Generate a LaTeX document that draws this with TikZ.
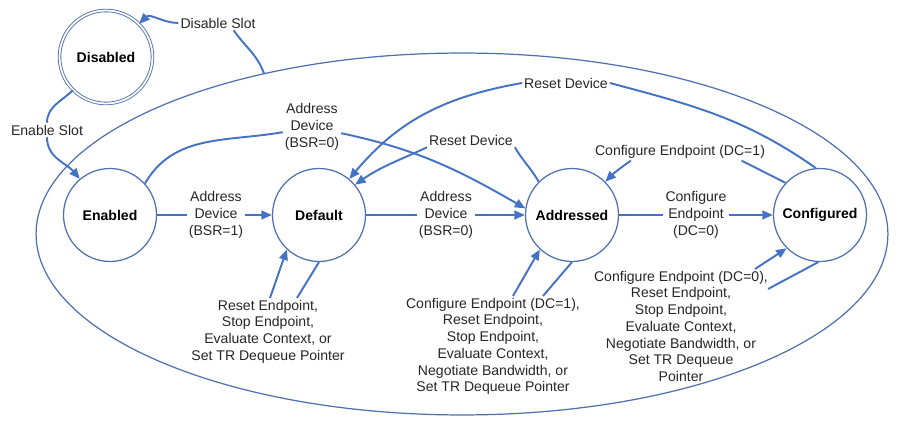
\documentclass[tikz,border=0pt]{standalone}
\usepackage{fontspec}
\setmainfont{Liberation Sans}
\usepackage{tikz}
\tikzset{every picture/.style={x=0.02cm,y=0.02cm}}
\usetikzlibrary{arrows.meta, shapes.geometric, calc}
\definecolor{cblue}{RGB}{79,112,176}
\definecolor{ablue}{RGB}{68,114,196}
\definecolor{tgray}{RGB}{38,38,38}
\tikzset{
  state/.style={circle, draw=cblue, line width=0.7pt, minimum size=1.86cm, inner sep=0pt,
    font=\fontsize{8}{9.5}\selectfont\bfseries, text=black},
  lbl/.style={align=center, inner sep=1pt, text=tgray, font=\fontsize{8}{9.5}\selectfont},
  link/.style={draw=ablue, line width=1.1pt},
  flow/.style={link, -{Triangle[length=6pt,width=5pt]}}
}

\begin{document}
\begin{tikzpicture}
    \useasboundingbox (0,0) rectangle (913,429);
    % slot enabled region
    \node[draw=cblue, line width=0.7pt, ellipse, minimum width=17.04cm, minimum height=7.24cm,
      inner sep=0pt, outer sep=0pt] (sys) at (462,195) {};
    % states
    \node[state, double, double distance=1pt, line width=0.5pt] (dis) at (106,372) {Disabled};
    \node[state] (en) at (110,214) {Enabled};
    \node[state] (def) at (319,214) {Default};
    \node[state] (adr) at (572,214) {Addressed};
    \node[state] (cfg) at (820,214) {Configured};
    % commands
    \node[lbl] (dslot) at (218,406) {Disable Slot};
    \node[lbl] (eslot) at (47,299) {Enable Slot};
    \node[lbl] (ad1) at (216,214) {Address\\Device\\(BSR=1)};
    \node[lbl] (ad0a) at (312,302) {Address\\Device\\(BSR=0)};
    \node[lbl] (ad0b) at (446,214) {Address\\Device\\(BSR=0)};
    \node[lbl] (rd1) at (471,289) {Reset Device};
    \node[lbl] (rd2) at (566,346) {Reset Device};
    \node[lbl] (ce1) at (680,277) {Configure Endpoint (DC=1)};
    \node[lbl] (ce0) at (696,214) {Configure\\Endpoint\\(DC=0)};
    \node[lbl, anchor=north] (lp1) at (268,131)
      {Reset Endpoint,\\Stop Endpoint,\\Evaluate Context, or\\Set TR Dequeue Pointer};
    \node[lbl, anchor=north] (lp2) at (493,133)
      {Configure Endpoint (DC=1),\\Reset Endpoint,\\Stop Endpoint,\\Evaluate Context,\\Negotiate Bandwidth, or\\Set TR Dequeue Pointer};
    \node[lbl, anchor=north] (lp3) at (681,160)
      {Configure Endpoint (DC=0),\\Reset Endpoint,\\Stop Endpoint,\\Evaluate Context,\\Negotiate Bandwidth, or\\Set TR Dequeue\\Pointer};
    % transitions
    \draw[link] (sys.141) to[out=110,in=-55] (dslot.-25);
    \draw[flow] (dslot) to[out=180,in=45] (dis);
    \draw[link] (dis.225) to[out=225,in=90] (eslot);
    \draw[flow] (eslot) to[out=-90,in=130] (en);
    \draw[link] (en) -- (ad1);
    \draw[flow] (ad1) -- (def);
    \draw[link] (en.42) to[out=60,in=190] (ad0a);
    \draw[flow] (ad0a) to[out=-12,in=150] (adr.172);
    \draw[link] (def) -- (ad0b);
    \draw[flow] (ad0b) -- (adr);
    \draw[link] (adr.135) to[out=120,in=-60] (rd1.south east);
    \draw[flow] (rd1.south west) to[out=205,in=35] (def.40);
    \draw[link] (cfg.95) to[out=145,in=-15] (rd2.east);
    \draw[flow] (rd2.west) to[out=190,in=50] (def.50);
    \draw[link] (cfg.137) -- (ce1.-8);
    \draw[flow] (ce1.190) to[out=215,in=45] (adr.45);
    \draw[link] (adr) -- (ce0);
    \draw[flow] (ce0) -- (cfg);
    % self loops
    \draw[link] (def.-90) -- ($(lp1.north)+(29,0)$);
    \draw[flow] ($(lp1.north)+(2,0)$) -- (def.227);
    \draw[link] (adr.-90) -- ($(lp2.north)+(50,0)$);
    \draw[flow] ($(lp2.north)+(20,0)$) -- (adr.227);
    \draw[link] (cfg.-92) -- ($(lp3.north east)+(-2,-20)$);
    \draw[flow] ($(lp3.north)+(74,0)$) -- (cfg.225);
\end{tikzpicture}
\end{document}
